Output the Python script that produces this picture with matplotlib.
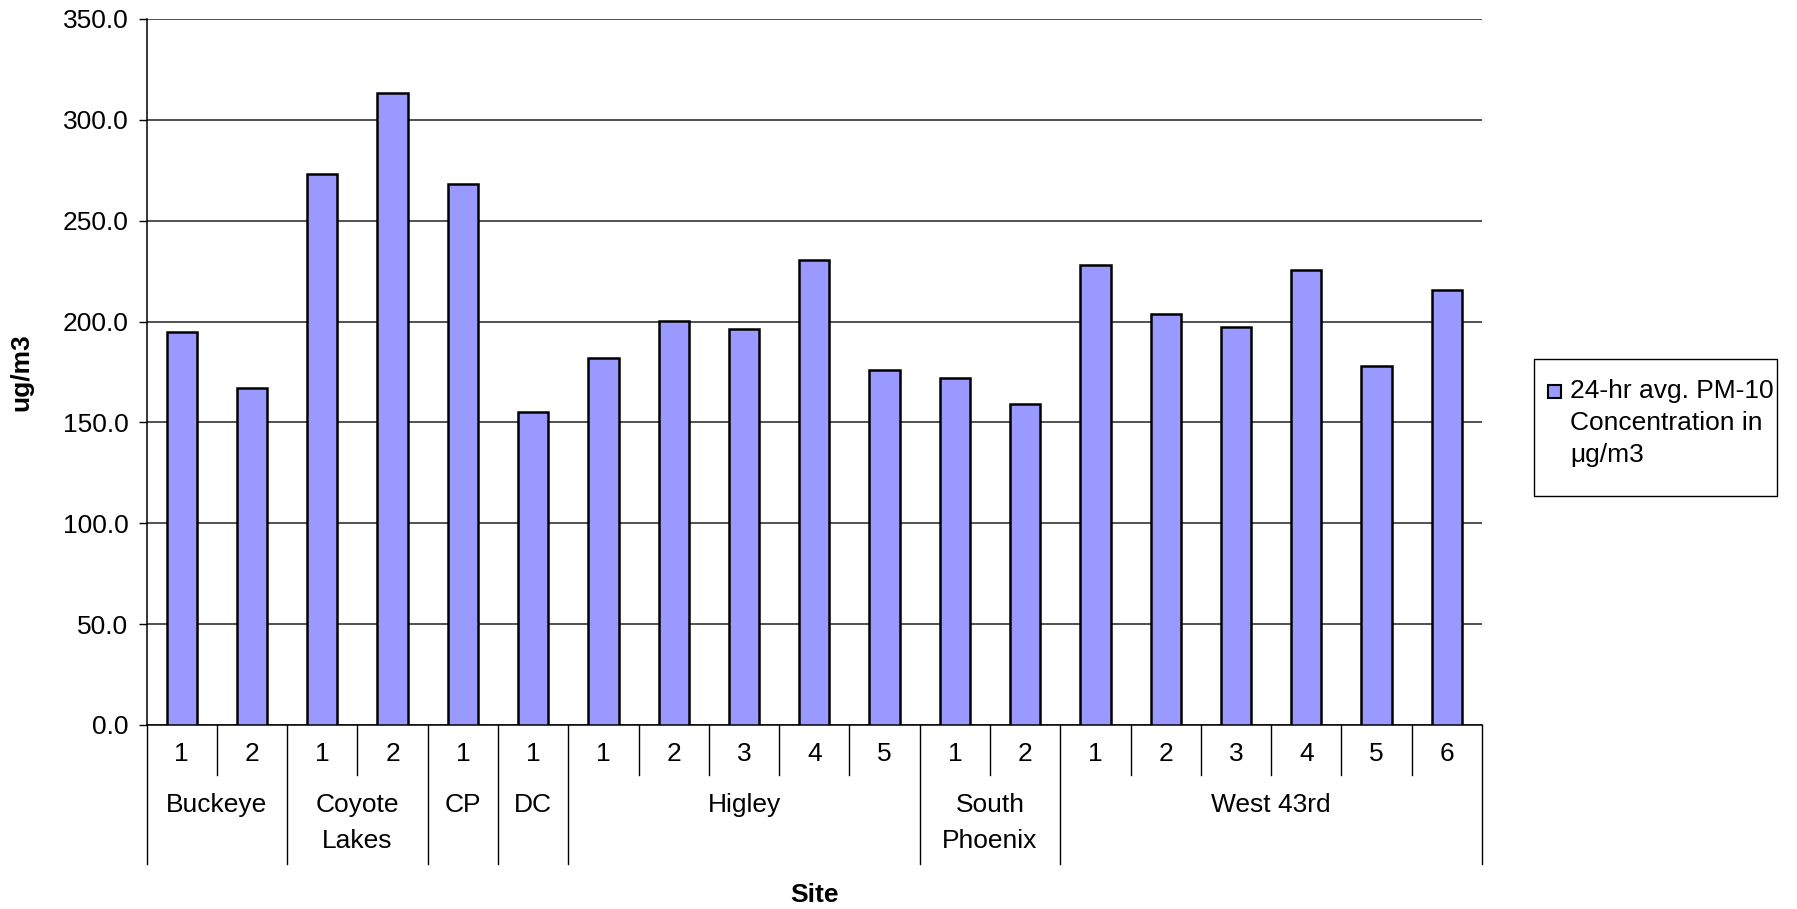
import matplotlib
matplotlib.use("Agg")
import matplotlib.pyplot as plt
from matplotlib.patches import Rectangle
from matplotlib.transforms import blended_transform_factory

plt.rcParams['font.family'] = ['Liberation Sans', 'DejaVu Sans']

# ---- data ----
groups = ["Buckeye", "Coyote\nLakes", "CP", "DC", "Higley", "South\nPhoenix", "West 43rd"]
group_items = [["1", "2"], ["1", "2"], ["1"], ["1"], ["1", "2", "3", "4", "5"],
               ["1", "2"], ["1", "2", "3", "4", "5", "6"]]
values = [195.0, 167.0,
          273.0, 313.4,
          268.2,
          155.0,
          181.8, 200.1, 196.5, 230.5, 175.9,
          172.1, 159.1,
          228.1, 203.8, 197.5, 225.6, 178.2, 215.7]
yticks = [0, 50, 100, 150, 200, 250, 300, 350]
legend_label = "24-hr avg. PM-10\nConcentration in\nμg/m3"
bar_color = "#9999FF"

FS = 19
W, H = 1797, 909
fig = plt.figure(figsize=(W / 100, H / 100), dpi=100)
ax_l, ax_r, ax_t, ax_b = 146.6, 1482, 19, 725
ax = fig.add_axes([ax_l / W, 1 - ax_b / H, (ax_r - ax_l) / W, (ax_b - ax_t) / H])
ax_h = ax_b - ax_t

n = len(values)
x = list(range(n))
ax.bar(x, values, width=0.43, color=bar_color, edgecolor="black", linewidth=1.8, zorder=3)

ax.set_xlim(-0.5, n - 0.5)
ax.set_ylim(0, 350)
ax.set_yticks(yticks)
ax.set_yticklabels([f"{v:.1f}" for v in yticks], fontsize=FS)
ax.tick_params(axis='y', length=6, width=1, pad=7, color='black')
ax.set_xticks([])
ax.yaxis.grid(True, color='#222222', linewidth=1.1, zorder=0)
ax.set_axisbelow(True)
for s in ['top', 'right']:
    ax.spines[s].set_visible(False)
ax.spines['left'].set_linewidth(1.1)
ax.spines['bottom'].set_linewidth(1.1)

tr = blended_transform_factory(ax.transData, ax.transAxes)
short = -50 / ax_h
deep = -139 / ax_h

# item labels and separators
pos = 0
boundaries_group = [-0.5]
for g, items in zip(groups, group_items):
    start = pos
    for it in items:
        ax.text(pos, -29 / ax_h, it, transform=tr, ha='center', va='center', fontsize=FS)
        pos += 1
    for b in range(start + 1, pos):
        ax.plot([b - 0.5, b - 0.5], [0, short], transform=tr, color='black',
                linewidth=1, clip_on=False)
    boundaries_group.append(pos - 0.5)
    center = (start + pos - 1) / 2
    ax.text(center, -68 / ax_h, g, transform=tr, ha='center', va='top', fontsize=FS,
            linespacing=1.63)
for b in boundaries_group:
    ax.plot([b, b], [0, deep], transform=tr, color='black', linewidth=1, clip_on=False)

fig.text((ax_l + ax_r) / 2 / W, 1 - 895 / H, "Site", ha='center', va='center',
         fontsize=FS, fontweight='bold')
fig.text(21 / W, 1 - (ax_t + ax_b) / 2 / H, "ug/m3", ha='center', va='center',
         rotation=90, fontsize=FS, fontweight='bold')

# legend
lx0, ly0, lx1, ly1 = 1534, 359, 1777, 496
fig.patches.append(Rectangle((lx0 / W, 1 - ly1 / H), (lx1 - lx0) / W, (ly1 - ly0) / H,
                             transform=fig.transFigure, facecolor='white',
                             edgecolor='black', linewidth=1))
fig.patches.append(Rectangle((1548 / W, 1 - 398 / H), 13 / W, 13 / H,
                             transform=fig.transFigure, facecolor=bar_color,
                             edgecolor='black', linewidth=1.5))
fig.text(1570 / W, 1 - 379 / H, legend_label, ha='left', va='top', fontsize=FS,
         linespacing=1.42)

fig.savefig("out.png", dpi=100)
